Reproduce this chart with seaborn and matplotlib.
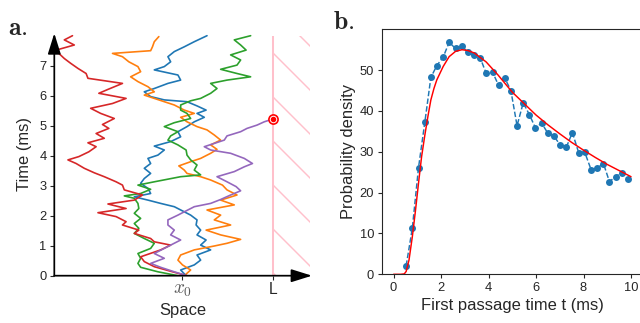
"""
Random walks to an absorbing wall (a) and the first passage time density (b).
"""

import numpy as np
import seaborn as sns
import matplotlib.pyplot as plt

# ---------------------------------------------------------------------------
# Panel a: five walks (space in units where x0=0, L=1)
t_blue = [0, 0.19, 0.36, 0.52, 0.69, 0.86, 1.02, 1.19, 1.36, 1.52, 1.69, 1.86, 2.02, 2.13,
          2.3, 2.41, 2.52, 2.63, 2.74, 2.91, 3.08, 3.24, 3.41, 3.58, 3.74, 3.91, 4.02, 4.19,
          4.32, 4.47, 4.63, 4.8, 4.97, 5.13, 5.28, 5.41, 5.52, 5.66, 5.8, 5.86, 5.97, 6.13,
          6.24, 6.41, 6.52, 6.69, 6.86, 6.97, 7.13, 7.3, 7.47, 7.63, 7.8, 8.0]
s_blue = [0.04, -0.02, 0.13, 0.20, 0.16, 0.31, 0.20, 0.26, 0.16, 0.20, 0.15, 0.16, 0.09, 0.02,
          -0.09, -0.24, -0.38, -0.53, -0.35, -0.38, -0.46, -0.42, -0.35, -0.42, -0.35, -0.38,
          -0.27, -0.20, -0.31, -0.13, -0.02, -0.05, 0.05, 0.13, 0.24, 0.16, 0.26, 0.16, 0.05,
          -0.20, -0.35, -0.42, -0.31, -0.16, -0.02, -0.05, -0.31, -0.20, -0.13, -0.16, -0.09,
          0.02, 0.13, 0.27]

t_orange = [0, 0.19, 0.36, 0.52, 0.69, 0.86, 0.99, 1.08, 1.21, 1.36, 1.52, 1.69, 1.86, 2.02,
            2.19, 2.36, 2.52, 2.69, 2.86, 3.02, 3.19, 3.3, 3.41, 3.52, 3.66, 3.8, 3.91, 4.08,
            4.21, 4.36, 4.52, 4.69, 4.86, 4.97, 5.13, 5.28, 5.41, 5.52, 5.69, 5.8, 5.91, 6.02,
            6.13, 6.3, 6.47, 6.63, 6.8, 6.97, 7.13, 7.3, 7.41, 7.5, 7.63, 7.8, 7.97]
s_orange = [0.02, 0.09, 0.0, -0.05, -0.02, 0.13, 0.35, 0.49, 0.64, 0.42, 0.26, 0.53, 0.35,
            0.42, 0.27, 0.57, 0.42, 0.60, 0.49, 0.44, 0.31, 0.20, 0.05, 0.02, -0.04, 0.09,
            0.20, 0.31, 0.38, 0.31, 0.42, 0.35, 0.27, 0.16, 0.05, -0.02, 0.13, 0.02, -0.09,
            -0.20, -0.31, -0.42, -0.31, -0.38, -0.49, -0.57, -0.46, -0.49, -0.59, -0.66,
            -0.77, -0.35, -0.33, -0.31, -0.26]

t_green = [0, 0.13, 0.28, 0.41, 0.58, 0.74, 0.91, 1.08, 1.24, 1.41, 1.58, 1.74, 1.91, 2.08,
           2.24, 2.41, 2.58, 2.66, 2.74, 2.88, 3.02, 3.13, 3.3, 3.36, 3.52, 3.69, 3.86, 4.02,
           4.19, 4.36, 4.52, 4.66, 4.8, 4.97, 5.1, 5.24, 5.41, 5.52, 5.69, 5.83, 5.91, 6.08,
           6.24, 6.41, 6.52, 6.63, 6.74, 6.88, 7.02, 7.19, 7.36, 7.52, 7.69, 7.86, 8.0]
s_green = [-0.05, -0.27, -0.46, -0.49, -0.46, -0.49, -0.35, -0.31, -0.42, -0.53, -0.48, -0.53,
           -0.46, -0.53, -0.48, -0.49, -0.53, -0.64, -0.46, -0.35, -0.49, -0.31, -0.02, 0.20,
           0.13, 0.16, 0.09, 0.05, 0.04, -0.05, -0.16, -0.13, -0.05, -0.20, -0.09, 0.09, 0.05,
           -0.02, -0.02, 0.09, 0.20, 0.31, 0.38, 0.31, 0.49, 0.75, 0.60, 0.42, 0.60, 0.64,
           0.53, 0.70, 0.64, 0.57, 0.75]

t_red = [0, 0.13, 0.3, 0.47, 0.63, 0.86, 1.02, 1.13, 1.24, 1.41, 1.52, 1.69, 1.8, 1.97, 2.1,
         2.24, 2.39, 2.52, 2.69, 2.86, 3.02, 3.13, 3.3, 3.43, 3.58, 3.74, 3.86, 3.97, 4.13,
         4.3, 4.43, 4.58, 4.74, 4.91, 5.04, 5.24, 5.41, 5.58, 5.74, 5.91, 6.08, 6.21, 6.41,
         6.58, 6.74, 6.91, 7.08, 7.24, 7.41, 7.52, 7.69, 7.86, 8.0]
s_red = [0.05, -0.11, -0.31, -0.42, -0.46, -0.24, -0.13, -0.31, -0.35, -0.53, -0.48, -0.66,
         -0.62, -0.73, -0.93, -0.62, -0.82, -0.53, -0.44, -0.64, -0.66, -0.73, -0.86, -0.97,
         -1.08, -1.17, -1.26, -1.14, -1.03, -0.95, -1.04, -0.86, -0.95, -0.81, -0.88, -0.75,
         -0.90, -1.01, -0.77, -0.62, -0.92, -0.82, -0.66, -1.04, -1.06, -1.15, -1.23, -1.30,
         -1.36, -1.39, -1.19, -1.30, -1.21]

t_purple = [0, 0.13, 0.28, 0.41, 0.58, 0.74, 0.91, 1.02, 1.19, 1.36, 1.52, 1.69, 1.86, 2.02,
            2.13, 2.3, 2.41, 2.54, 2.69, 2.83, 2.97, 3.13, 3.3, 3.47, 3.63, 3.74, 3.91, 4.08,
            4.19, 4.3, 4.41, 4.52, 4.66, 4.8, 4.91, 5.02, 5.13, 5.23]
s_purple = [0.05, -0.09, -0.24, -0.35, -0.20, -0.31, -0.20, -0.13, -0.02, -0.13, -0.09, -0.16,
            -0.16, -0.05, 0.02, 0.13, 0.31, 0.42, 0.53, 0.64, 0.59, 0.49, 0.38, 0.57, 0.68,
            0.77, 0.68, 0.53, 0.31, 0.24, 0.35, 0.46, 0.49, 0.64, 0.71, 0.82, 0.90, 1.0]

walks = [(t_blue, s_blue), (t_orange, s_orange), (t_green, s_green),
         (t_red, s_red), (t_purple, s_purple)]

L_pos = 1.0
t_hit = 5.23
t_max = 8.0

# Panel b: histogram of first passage times and the theoretical density
fpt_t = [0.53, 0.79, 1.05, 1.32, 1.57, 1.82, 2.09, 2.34, 2.61, 2.88, 3.13, 3.39, 3.65,
         3.90, 4.17, 4.42, 4.68, 4.94, 5.20, 5.46, 5.72, 5.97, 6.24, 6.49, 6.76, 7.01,
         7.28, 7.53, 7.80, 8.05, 8.32, 8.57, 8.84, 9.09, 9.35, 9.61, 9.87]
fpt_density = [2.1, 11.3, 26.1, 37.4, 48.2, 51.1, 53.2, 56.8, 55.3, 55.8, 54.4, 53.6, 53.0,
               49.2, 49.5, 46.3, 48.1, 45.0, 36.4, 42.0, 39.1, 35.9, 37.0, 34.6, 33.8, 31.7,
               31.2, 34.7, 29.7, 29.9, 25.6, 26.0, 27.1, 22.7, 23.9, 24.9, 23.3]

fit_t = [0, 0.3, 0.45, 0.53, 0.65, 0.79, 0.92, 1.05, 1.18, 1.32, 1.45, 1.57, 1.7, 1.82,
         2.09, 2.34, 2.61, 2.88, 3.13, 3.4, 3.9, 4.4, 5.0, 5.5, 6.0, 6.5, 7.0, 7.5, 8.0,
         8.5, 9.0, 9.5, 10.0]
fit_density = [0, 0, 0.1, 0.7, 3.5, 9.2, 15.5, 22.3, 28.8, 34.2, 38.8, 42.7, 45.5, 47.6,
               50.9, 53.3, 54.6, 55.0, 54.8, 54.2, 52.0, 48.8, 44.6, 41.8, 39.0, 36.6, 34.4,
               32.3, 30.4, 28.6, 26.9, 25.4, 23.9]

# ---------------------------------------------------------------------------
sns.set_style("ticks")
plt.rcParams['font.family'] = ['Liberation Sans', 'DejaVu Sans']
plt.rcParams['mathtext.fontset'] = 'cm'
plt.rcParams['hatch.linewidth'] = 0.8

DPI = 132
fig = plt.figure(figsize=(640 / DPI, 323 / DPI), dpi=DPI)

# pixel boxes measured on the reference
ax_a = fig.add_axes([54.3 / 640, (323 - 275.7) / 323, (312 - 54.3) / 640, (275.7 - 33.3) / 323])
ax_b = fig.add_axes([381.7 / 640, (323 - 274.3) / 323, (642.9 - 381.7) / 640, (274.3 - 29.3) / 323])

###############################################################################
#                               a. random walks                               #
palette = sns.color_palette("tab10")
for (t, s), c in zip(walks, palette):
    sns.lineplot(x=s, y=t, sort=False, estimator=None, color=c, lw=0.9, ax=ax_a)

ax_a.vlines(L_pos, 0, t_max, color='pink', lw=1.1, zorder=1)
ax_a.fill_betweenx([0, t_max], L_pos, 1.40, facecolor='none', edgecolor='pink',
                   hatch='\\', lw=0, zorder=0)
ax_a.plot(L_pos, t_hit, 'o', ms=5, mfc='white', mec='red', mew=0.9, zorder=6, clip_on=False)
ax_a.plot(L_pos, t_hit, 'o', ms=2, color='red', zorder=7, clip_on=False)

ax_a.set_xlim(-1.41, 1.425)
ax_a.set_ylim(0, 8.08)
ax_a.set_yticks(range(8))
ax_a.set_xticks([0, L_pos], [r'$x_0$', 'L'])
ax_a.tick_params(axis='y', length=2.2, width=0.6, labelsize=7, pad=2)
ax_a.tick_params(axis='x', length=2.2, width=0.6, labelsize=8.5, pad=1.5)
ax_a.get_xticklabels()[0].set_fontsize(10.5)
ax_a.get_xticklabels()[0].set_color('0.35')
for sp in ax_a.spines.values():
    sp.set_visible(False)
arrow = dict(arrowstyle='-|>,head_length=0.8,head_width=0.25', color='k', lw=0.95,
             mutation_scale=12, shrinkA=0, shrinkB=0)
ax_a.annotate('', xy=(0, 1), xytext=(0, 0), xycoords='axes fraction', arrowprops=arrow)
ax_a.annotate('', xy=(1, 0), xytext=(0, 0), xycoords='axes fraction', arrowprops=arrow)
ax_a.set_xlabel('Space', fontsize=9, labelpad=2)
ax_a.set_ylabel('Time (ms)', fontsize=9, labelpad=4)

###############################################################################
#                        b. first passage time density                        #
blue = palette[0]
sns.lineplot(x=fpt_t, y=fpt_density, ax=ax_b, color=blue, lw=0.8, linestyle='--',
             marker='o', ms=3.8, mec=blue, mew=0)
sns.lineplot(x=fit_t, y=fit_density, ax=ax_b, color='red', lw=0.8)

ax_b.set_xlim(-0.5, 10.5)
ax_b.set_ylim(0, 60)
ax_b.set_xticks(range(0, 11, 2))
ax_b.set_yticks(range(0, 51, 10))
ax_b.spines['right'].set_visible(False)
for sp in ax_b.spines.values():
    sp.set_linewidth(0.6)
ax_b.tick_params(length=2.2, width=0.6, labelsize=7, pad=2)
ax_b.set_xlabel('First passage time t (ms)', fontsize=9, labelpad=2)
ax_b.set_ylabel('Probability density', fontsize=9, labelpad=2)

fig.text(8 / 640, 1 - 35 / 323, r'$\mathbf{a.}$', fontsize=14, va='baseline')
fig.text(333 / 640, 1 - 29 / 323, r'$\mathbf{b.}$', fontsize=14, va='baseline')

fig.savefig('out.png', dpi=DPI)
